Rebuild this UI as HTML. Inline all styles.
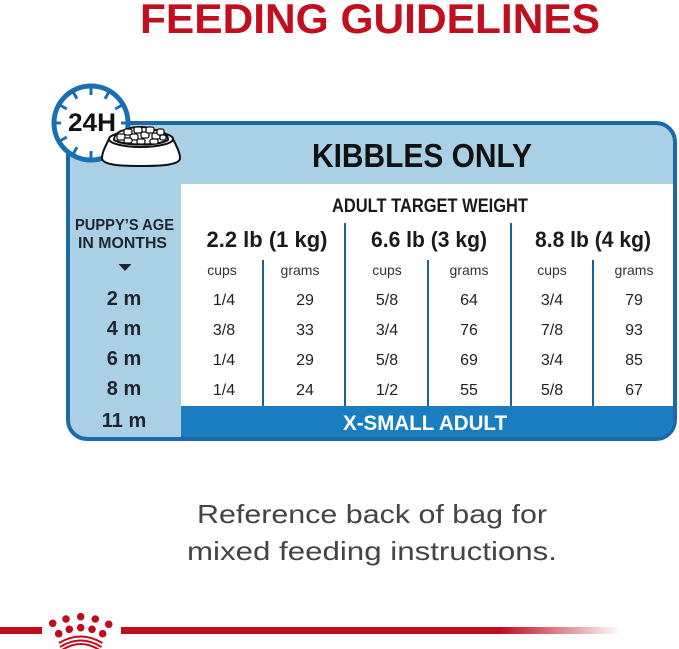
<!DOCTYPE html>
<html>
<head>
<meta charset="utf-8">
<style>
  html,body{margin:0;padding:0;background:#fff;}
  body{width:679px;height:649px;overflow:hidden;}
  svg{display:block;}
  text{font-family:"Liberation Sans", Arial, sans-serif;}
</style>
</head>
<body>
<svg width="679" height="649" viewBox="0 0 679 649" xmlns="http://www.w3.org/2000/svg">
  <defs>
    <clipPath id="inner">
      <rect x="70" y="125" width="603" height="312" rx="17" ry="17"/>
    </clipPath>
    <linearGradient id="fade" x1="0" y1="0" x2="1" y2="0">
      <stop offset="0" stop-color="#bf0d1f" stop-opacity="1"/>
      <stop offset="1" stop-color="#bf0d1f" stop-opacity="0"/>
    </linearGradient>
  </defs>

  <!-- Title -->
  <text x="140" y="33" font-size="42" font-weight="bold" fill="#c0101f" textLength="460" lengthAdjust="spacingAndGlyphs">FEEDING GUIDELINES</text>

  <!-- Box -->
  <rect x="68" y="123" width="607" height="316" rx="19" ry="19" fill="#a9d0e4" stroke="#1b69a8" stroke-width="4"/>
  <g clip-path="url(#inner)">
    <rect x="181" y="184" width="494" height="222" fill="#ffffff"/>
    <rect x="181" y="406" width="494" height="33" fill="#1a7dc0"/>
  </g>

  <!-- KIBBLES ONLY -->
  <text x="312" y="167" font-size="33" font-weight="bold" fill="#111" textLength="220" lengthAdjust="spacingAndGlyphs">KIBBLES ONLY</text>

  <!-- ADULT TARGET WEIGHT -->
  <text x="332" y="212" font-size="19" font-weight="bold" fill="#1a1a1a" textLength="196" lengthAdjust="spacingAndGlyphs">ADULT TARGET WEIGHT</text>

  <!-- Dividers -->
  <g stroke="#1f5f99" stroke-width="2">
    <line x1="345" y1="223" x2="345" y2="406"/>
    <line x1="511" y1="223" x2="511" y2="406"/>
    <line x1="263" y1="260" x2="263" y2="406"/>
    <line x1="428" y1="260" x2="428" y2="406"/>
    <line x1="593" y1="260" x2="593" y2="406"/>
  </g>

  <!-- Weight headers -->
  <g font-size="22" font-weight="bold" fill="#1a1a1a" text-anchor="middle">
    <text x="267" y="247" textLength="121" lengthAdjust="spacingAndGlyphs">2.2 lb (1 kg)</text>
    <text x="429" y="247" textLength="116" lengthAdjust="spacingAndGlyphs">6.6 lb (3 kg)</text>
    <text x="593" y="247" textLength="116" lengthAdjust="spacingAndGlyphs">8.8 lb (4 kg)</text>
  </g>

  <!-- Sub headers -->
  <g font-size="14" fill="#333" text-anchor="middle">
    <text x="222" y="275">cups</text>
    <text x="300" y="275">grams</text>
    <text x="387" y="275">cups</text>
    <text x="469" y="275">grams</text>
    <text x="552" y="275">cups</text>
    <text x="634" y="275">grams</text>
  </g>

  <!-- Data -->
  <g font-size="16" fill="#222" text-anchor="middle">
    <text x="224" y="305">1/4</text><text x="305" y="305">29</text>
    <text x="387" y="305">5/8</text><text x="469" y="305">64</text>
    <text x="552" y="305">3/4</text><text x="634" y="305">79</text>

    <text x="224" y="335">3/8</text><text x="305" y="335">33</text>
    <text x="387" y="335">3/4</text><text x="469" y="335">76</text>
    <text x="552" y="335">7/8</text><text x="634" y="335">93</text>

    <text x="224" y="365">1/4</text><text x="305" y="365">29</text>
    <text x="387" y="365">5/8</text><text x="469" y="365">69</text>
    <text x="552" y="365">3/4</text><text x="634" y="365">85</text>

    <text x="224" y="395">1/4</text><text x="305" y="395">24</text>
    <text x="387" y="395">1/2</text><text x="469" y="395">55</text>
    <text x="552" y="395">5/8</text><text x="634" y="395">67</text>
  </g>

  <!-- Left column -->
  <g fill="#1f2430" font-weight="bold">
    <text x="75" y="230" font-size="16" textLength="99" lengthAdjust="spacingAndGlyphs">PUPPY’S AGE</text>
    <text x="78" y="248" font-size="16" textLength="89" lengthAdjust="spacingAndGlyphs">IN MONTHS</text>
  </g>
  <polygon points="118.5,264 131.5,264 125,271" fill="#1f2430"/>
  <g fill="#1f2430" font-weight="bold" font-size="20" text-anchor="middle">
    <text x="124" y="305">2 m</text>
    <text x="124" y="335">4 m</text>
    <text x="124" y="365">6 m</text>
    <text x="124" y="395">8 m</text>
    <text x="124" y="427">11 m</text>
  </g>

  <!-- X-SMALL ADULT -->
  <text x="425" y="430" font-size="21" font-weight="bold" fill="#ffffff" text-anchor="middle" textLength="164" lengthAdjust="spacingAndGlyphs">X-SMALL ADULT</text>

  <!-- Clock -->
  <circle cx="91" cy="123" r="37" fill="#ffffff" stroke="#1b6fb0" stroke-width="5"/>
  <g stroke="#1b6fb0" stroke-width="3" stroke-linecap="butt">
    <line x1="91" y1="87" x2="91" y2="95"/>
    <line x1="91" y1="151" x2="91" y2="159"/>
    <line x1="55" y1="123" x2="61" y2="123"/>
    <line x1="121" y1="123" x2="127" y2="123"/>
    <line x1="109" y1="91.8" x2="105" y2="98.8"/>
    <line x1="122.2" y1="105" x2="115.2" y2="109"/>
    <line x1="122.2" y1="141" x2="115.2" y2="137"/>
    <line x1="109" y1="154.2" x2="105" y2="147.2"/>
    <line x1="73" y1="154.2" x2="77" y2="147.2"/>
    <line x1="59.8" y1="141" x2="66.8" y2="137"/>
    <line x1="59.8" y1="105" x2="66.8" y2="109"/>
    <line x1="73" y1="91.8" x2="77" y2="98.8"/>
  </g>
  <text x="92" y="131" font-size="25" font-weight="bold" fill="#111" text-anchor="middle" textLength="48" lengthAdjust="spacingAndGlyphs">24H</text>

  <!-- Bowl -->
  <g stroke="#111" stroke-width="2" fill="#ffffff" stroke-linejoin="round">
    <path d="M109,139 C105,147 102,153 102,158 C102,165 120,166 141,166 C162,166 180,165 180,158 C180,153 177,147 173,139 Z"/>
    <ellipse cx="141" cy="139" rx="32" ry="8"/>
    <path d="M114,140 C114,134 120,130 127,130 C131,126 149,126 154,130 C162,130 168,134 168,140 C158,146 124,146 114,140 Z"/>
  </g>
  <g fill="#ffffff" stroke="#111" stroke-width="1.3">
    <rect x="117" y="134" width="8" height="6" rx="2"/>
    <rect x="124" y="129" width="8" height="6" rx="2"/>
    <rect x="130" y="134" width="8" height="6" rx="2"/>
    <rect x="134" y="127" width="8" height="6" rx="2"/>
    <rect x="141" y="132" width="8" height="6" rx="2"/>
    <rect x="146" y="127" width="8" height="6" rx="2"/>
    <rect x="152" y="133" width="8" height="6" rx="2"/>
    <rect x="157" y="129" width="7" height="6" rx="2"/>
    <rect x="124" y="138" width="8" height="5" rx="2"/>
    <rect x="137" y="139" width="8" height="5" rx="2"/>
    <rect x="150" y="139" width="8" height="5" rx="2"/>
    <rect x="160" y="135" width="6" height="5" rx="2"/>
  </g>

  <!-- Bottom text -->
  <g font-size="26" fill="#444444">
    <text x="197" y="523" textLength="350" lengthAdjust="spacingAndGlyphs">Reference back of bag for</text>
    <text x="187" y="560" textLength="370" lengthAdjust="spacingAndGlyphs">mixed feeding instructions.</text>
  </g>

  <!-- Footer red line -->
  <rect x="0" y="627" width="42" height="7" fill="#bf0d1f"/>
  <rect x="121" y="627" width="380" height="7" fill="#bf0d1f"/>
  <rect x="500" y="627" width="121" height="7" fill="url(#fade)"/>

  <!-- Crown -->
  <g fill="#bf0d1f">
    <circle cx="80.7" cy="616.7" r="3.8"/>
    <circle cx="66" cy="619" r="3.8"/>
    <circle cx="95.3" cy="619" r="3.8"/>
    <circle cx="52.7" cy="623.3" r="3.8"/>
    <circle cx="108.7" cy="624.3" r="3.8"/>
    <circle cx="69.3" cy="629.3" r="3.8"/>
    <circle cx="80.7" cy="627.7" r="3.8"/>
    <circle cx="92" cy="629.3" r="3.8"/>
    <circle cx="58.7" cy="633.7" r="3.8"/>
    <circle cx="102.7" cy="633.7" r="3.8"/>
  </g>
  <g fill="none" stroke="#bf0d1f" stroke-width="2">
    <path d="M59,643 Q80.7,630 102.5,643"/>
    <path d="M60,647 Q80.7,634 101.5,647"/>
    <path d="M62,650 Q80.7,638 99.5,650"/>
  </g>
</svg>
</body>
</html>
